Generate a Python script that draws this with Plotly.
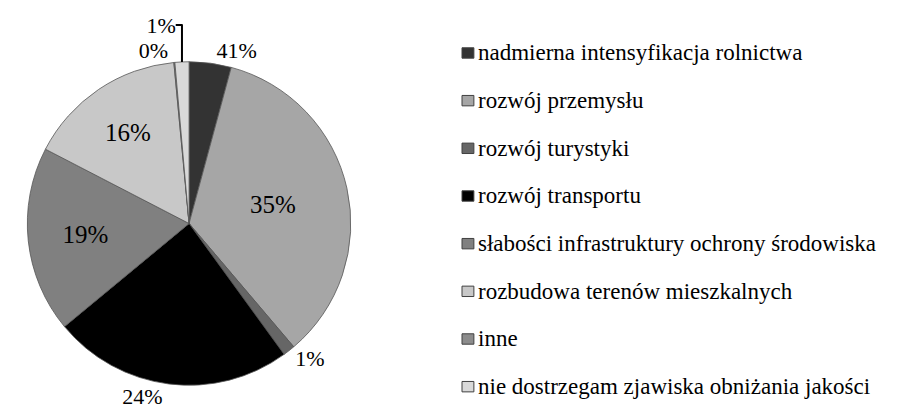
import plotly.graph_objects as go

categories = [
    "nadmierna intensyfikacja rolnictwa",
    "rozwój przemysłu",
    "rozwój turystyki",
    "rozwój transportu",
    "słabości infrastruktury ochrony środowiska",
    "rozbudowa terenów mieszkalnych",
    "inne",
    "nie dostrzegam zjawiska obniżania jakości",
]
values = [4.2, 34.6, 1.2, 24.0, 18.6, 15.9, 0.1, 1.4]
value_labels = ["41%", "35%", "1%", "24%", "19%", "16%", "0%", "1%"]
colors = ["#333333", "#a6a6a6", "#666666", "#000000", "#808080", "#c8c8c8", "#8c8c8c", "#d9d9d9"]

W, H = 900, 406
# page body adds an 8px offset, so positions below are shifted by it
cx, cy, r = 173, 212, 171
serif = "Liberation Serif"

fig = go.Figure(go.Pie(
    labels=categories,
    values=values,
    text=value_labels,
    textinfo="text",
    sort=False,
    direction="clockwise",
    rotation=0,
    marker=dict(colors=colors, line=dict(color="#555555", width=0.8)),
    textposition=["outside", "inside", "outside", "outside", "inside", "inside", "outside", "outside"],
    insidetextorientation="horizontal",
    insidetextfont=dict(family=serif, size=25, color="black"),
    outsidetextfont=dict(family=serif, size=22, color="black"),
    domain=dict(x=[(cx - r) / W, (cx + r) / W], y=[(H - cy - r) / H, (H - cy + r) / H]),
    showlegend=False,
    hoverinfo="label+percent",
))

# hand-built legend, one row per category
top, step = 31.7, 50.4
for i, (name, col) in enumerate(zip(categories, colors)):
    yc = top + i * step
    fig.add_shape(type="rect", xref="paper", yref="paper",
                  x0=449 / W, x1=461 / W, y0=1 - (yc + 5.5) / H, y1=1 - (yc - 5.5) / H,
                  fillcolor=col, line=dict(color="#404040", width=1))
    fig.add_annotation(text=name, xref="paper", yref="paper", x=463 / W, y=1 - yc / H,
                       xanchor="left", yanchor="middle", showarrow=False,
                       font=dict(family=serif, size=23, color="black"))

fig.update_layout(width=W, height=H, margin=dict(l=0, r=0, t=0, b=0),
                  paper_bgcolor="white", plot_bgcolor="white")
fig.write_html("out.html")
